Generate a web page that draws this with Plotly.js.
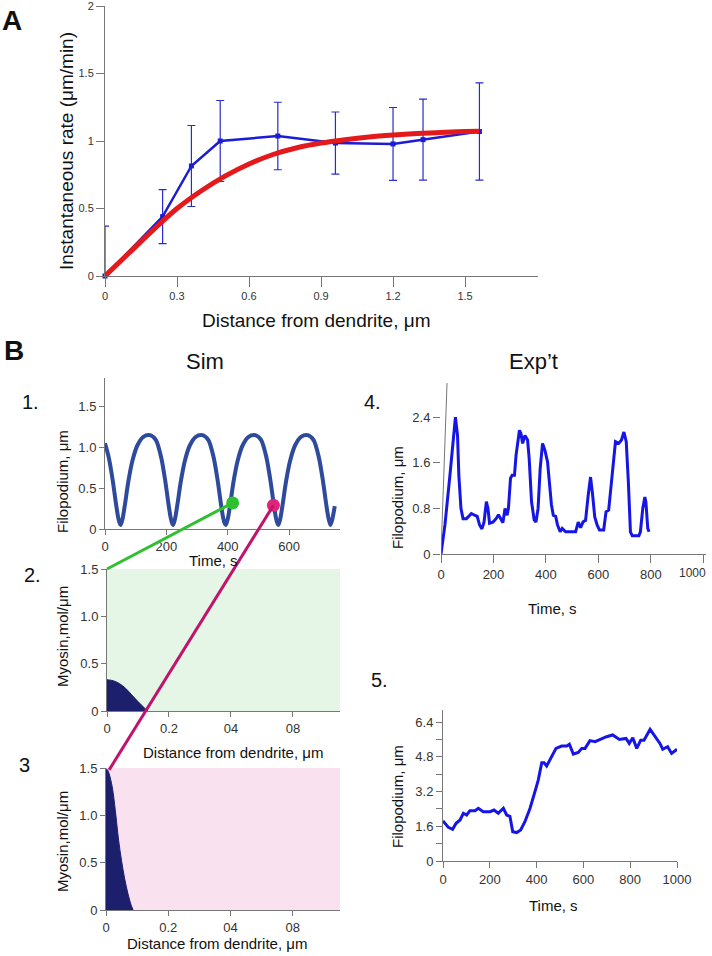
<!DOCTYPE html>
<html>
<head>
<meta charset="utf-8">
<script src="https://cdn.plot.ly/plotly-3.0.1.min.js"></script>
<style>
  html, body { margin: 0; padding: 0; background: #fff; }
  #chart { width: 712px; height: 956px; }
</style>
</head>
<body>
<div id="chart"></div>
<script>
// ---- Panel A: instantaneous rate vs distance ----
const rateX = [0, 0.24, 0.36, 0.48, 0.72, 0.96, 1.2, 1.325, 1.56];
const rateY = [0, 0.44, 0.815, 1.0, 1.037, 0.985, 0.978, 1.01, 1.07];
const rateErrUp = [0.37, 0.2, 0.3, 0.3, 0.25, 0.23, 0.27, 0.3, 0.36];
const rateErrDown = [0, 0.2, 0.3, 0.3, 0.25, 0.23, 0.27, 0.3, 0.36];
const fitX = [0, 0.1, 0.2, 0.3, 0.4, 0.5, 0.6, 0.7, 0.8, 0.9, 1.0, 1.1, 1.2, 1.3, 1.4, 1.5, 1.56];
const fitY = [0, 0.17, 0.34, 0.5, 0.63, 0.74, 0.83, 0.9, 0.95, 0.985, 1.01, 1.03, 1.044, 1.055, 1.063, 1.07, 1.072];
const aTicks = [0, 0.3, 0.6, 0.9, 1.2, 1.5];
const aMinorTicks = [0.267, 0.538, 0.808, 1.079, 1.35, 1.62];

// ---- Panel B1: simulated filopodium length ----
const simT = [0, 12, 25, 35, 43, 48,
  51, 57, 65, 76, 89, 105, 125, 147, 166, 183, 196, 206, 214, 219,
  222, 228, 236, 247, 260, 276, 296, 318, 337, 354, 367, 377, 385, 390,
  394, 400, 408, 419, 432, 448, 468, 490, 509, 526, 539, 549, 557, 562,
  565, 571, 579, 590, 603, 619, 639, 661, 680, 697, 710, 720, 728, 733,
  735, 741, 749];
const simLen = [1.05, 0.88, 0.6, 0.33, 0.14, 0.07,
  0.05, 0.12, 0.3, 0.58, 0.83, 1.02, 1.13, 1.15, 1.09, 0.88, 0.6, 0.33, 0.14, 0.07,
  0.05, 0.12, 0.3, 0.58, 0.83, 1.02, 1.13, 1.15, 1.09, 0.88, 0.6, 0.33, 0.14, 0.07,
  0.05, 0.12, 0.3, 0.58, 0.83, 1.02, 1.13, 1.15, 1.09, 0.88, 0.6, 0.33, 0.14, 0.07,
  0.05, 0.12, 0.3, 0.58, 0.83, 1.02, 1.13, 1.15, 1.09, 0.88, 0.6, 0.33, 0.14, 0.07,
  0.05, 0.12, 0.28];
const greenDot = { t: 416, v: 0.32 };
const pinkDot = { t: 549, v: 0.29 };

// ---- Panels B2 / B3: myosin profiles ----
const myo2X = [0, 0.02, 0.04, 0.06, 0.08, 0.1, 0.12, 0.132];
const myo2Y = [0.33, 0.32, 0.29, 0.24, 0.17, 0.1, 0.035, 0];
const myo3X = [0, 0.005, 0.01, 0.02, 0.03, 0.04, 0.05, 0.06, 0.07, 0.08, 0.087];
const myo3Y = [1.49, 1.48, 1.44, 1.3, 1.05, 0.75, 0.52, 0.33, 0.18, 0.06, 0];
const myoTicks = [0, 0.2, 0.4, 0.6];
const myoTickText = ["0", "0.2", "04", "08"];

// ---- Panel B4: experiment, trace 1 ----
const exp4T = [0, 15, 34, 47, 55, 63, 68, 76, 84, 97, 116, 128, 138, 147, 156, 164, 173, 179, 185,
  198, 210, 219, 227, 236, 244, 252, 257, 265, 271, 280, 286, 299, 305, 311, 320, 330, 336, 345,
  355, 362, 370, 378, 387, 396, 406, 414, 421, 428, 437, 444, 454, 462, 475, 506, 513, 523, 532,
  541, 551, 561, 570, 578, 586, 595, 604, 620, 629, 639, 649, 658, 665, 677, 688, 697, 706, 714,
  722, 729, 754, 760, 769, 777, 781, 788, 793];
const exp4V = [0, 0.51, 1.38, 2.08, 2.4, 2.08, 1.38, 0.8, 0.62, 0.62, 0.71, 0.68, 0.66, 0.51, 0.44, 0.56, 0.92, 0.8, 0.54,
  0.56, 0.62, 0.69, 0.62, 0.55, 0.8, 0.68, 0.8, 1.33, 1.38, 1.38, 1.73, 2.17, 2.11, 1.94, 2.08, 2.0, 1.68, 0.92,
  0.6, 0.56, 0.8, 1.5, 1.94, 1.82, 1.62, 1.27, 0.86, 0.68, 0.66, 0.51, 0.39, 0.45, 0.39, 0.39, 0.39, 0.56, 0.46,
  0.56, 0.59, 1.03, 1.35, 1.03, 0.65, 0.51, 0.42, 0.42, 0.74, 0.77, 1.21, 1.68, 1.97, 1.94, 2.0, 2.14, 1.97, 1.27,
  0.39, 0.32, 0.32, 0.39, 0.8, 1.0, 0.91, 0.45, 0.39];
const exp4SkewAxis = { t: [0, 23], v: [0, 3.0] };
const exp4TimeText = ["0", "200", "400", "600", "800", ""];

// ---- Panel B5: experiment, trace 2 ----
const exp5T = [0, 23, 41, 56, 73, 87, 101, 115, 137, 151, 172, 201, 218, 236, 258, 272, 286, 298, 315,
  332, 350, 372, 393, 407, 422, 432, 443, 457, 483, 507, 529, 540, 557, 578, 593, 607, 628, 650, 671,
  699, 725, 754, 782, 796, 811, 828, 845, 859, 885, 906, 927, 939, 960, 977, 1000];
const exp5V = [1.85, 1.55, 1.46, 1.74, 1.89, 2.2, 2.12, 2.32, 2.32, 2.43, 2.27, 2.27, 2.35, 2.2, 2.43, 2.12, 2.06, 1.35, 1.31,
  1.43, 1.81, 2.43, 3.2, 3.73, 4.53, 4.53, 4.38, 4.65, 5.19, 5.3, 5.3, 5.38, 4.93, 5.0, 5.19, 5.19, 5.55, 5.5, 5.6,
  5.73, 5.81, 5.6, 5.65, 5.42, 5.68, 5.19, 5.57, 5.57, 6.07, 5.73, 5.42, 5.15, 5.27, 4.96, 5.15];
const exp5Ticks = [0, 0.8, 1.6, 2.4, 3.2, 4.0, 4.8, 5.6, 6.4];
const exp5TickText = ["0", "", "1.6", "", "3.2", "", "4.8", "", "6.4"];
const timeTicks = [0, 200, 400, 600, 800, 1000];

// ---- layout helpers (page pixels -> paper fractions) ----
const W = 712, H = 956;
const FONT = "Liberation Sans, Arial, sans-serif";
const px = (x) => x / W;
const py = (y) => 1 - y / H;

function axis(extra) {
  return Object.assign({
    showline: true, linecolor: "#777", linewidth: 1,
    ticks: "outside", ticklen: 5, tickcolor: "#777", tickwidth: 1,
    showgrid: false, zeroline: false, fixedrange: true,
    ticklabeloverflow: "allow",
    tickfont: { family: FONT, size: 13, color: "#333" }
  }, extra);
}

const layout = {
  width: W, height: H,
  margin: { l: 0, r: 0, t: 0, b: 0 },
  paper_bgcolor: "#fff", plot_bgcolor: "rgba(0,0,0,0)",
  showlegend: false,
  font: { family: FONT, color: "#111" },

  xaxis: axis({ domain: [px(105), px(538)], range: [0, 1.804], anchor: "y",
    tickvals: aTicks, ticklen: 10, tickfont: { family: FONT, size: 11, color: "#333" } }),
  yaxis: axis({ domain: [py(276), py(6)], range: [0, 2], anchor: "x",
    tickvals: [0, 0.5, 1, 1.5, 2], ticktext: ["0", "0.5", "1", "1.5", "2"], ticklen: 8,
    tickfont: { family: FONT, size: 11, color: "#333" } }),
  xaxis7: axis({ overlaying: "x", anchor: "y", range: [0, 1.804], tickvals: aMinorTicks,
    ticks: "inside", ticklen: 4, showticklabels: false, showline: false }),

  xaxis2: axis({ domain: [px(105), px(340)], range: [0, 766], anchor: "y2", tickvals: [0, 200, 400, 600] }),
  yaxis2: axis({ domain: [py(529), py(378)], range: [0, 1.85], anchor: "x2",
    tickvals: [0, 0.5, 1, 1.5], ticktext: ["0", "0.5", "1.0", "1.5"] }),

  xaxis3: axis({ domain: [px(107), px(340)], range: [0, 0.752], anchor: "y3", tickvals: myoTicks, ticktext: myoTickText }),
  yaxis3: axis({ domain: [py(711), py(569)], range: [0, 1.5], anchor: "x3",
    tickvals: [0, 0.5, 1, 1.5], ticktext: ["0", "0.5", "1.0", "1.5"] }),

  xaxis4: axis({ domain: [px(106), px(340)], range: [0, 0.752], anchor: "y4", tickvals: myoTicks, ticktext: myoTickText }),
  yaxis4: axis({ domain: [py(910), py(768)], range: [0, 1.5], anchor: "x4",
    tickvals: [0, 0.5, 1, 1.5], ticktext: ["0", "0.5", "1.0", "1.5"] }),

  xaxis5: axis({ domain: [px(441), px(706)], range: [0, 1010], anchor: "y5",
    tickvals: timeTicks, ticktext: exp4TimeText, ticklen: 8 }),
  yaxis5: axis({ domain: [py(554), py(383)], range: [0, 3.0], anchor: "x5",
    tickvals: [0, 0.8, 1.6, 2.4], ticktext: ["0", "0.8", "1.6", "2.4"], showline: false, ticklen: 7 }),

  xaxis6: axis({ domain: [px(443), px(677)], range: [0, 1000], anchor: "y6", tickvals: timeTicks, ticklen: 6 }),
  yaxis6: axis({ domain: [py(861), py(710)], range: [0, 6.96], anchor: "x6",
    tickvals: exp5Ticks, ticktext: exp5TickText, ticklen: 6 })
};

// data coords -> paper coords, through the axis ranges above
function toPaper(xa, ya, x, y) {
  const ax = layout[xa], ay = layout[ya];
  return {
    x: ax.domain[0] + (x - ax.range[0]) / (ax.range[1] - ax.range[0]) * (ax.domain[1] - ax.domain[0]),
    y: ay.domain[0] + (y - ay.range[0]) / (ay.range[1] - ay.range[0]) * (ay.domain[1] - ay.domain[0])
  };
}

const gStart = toPaper("xaxis2", "yaxis2", greenDot.t, greenDot.v);
const gEnd = toPaper("xaxis3", "yaxis3", 0, 1.5);
const pStart = toPaper("xaxis2", "yaxis2", pinkDot.t, pinkDot.v);
const pEnd = toPaper("xaxis4", "yaxis4", 0.01, 1.48);

layout.shapes = [
  { type: "rect", xref: "x3 domain", yref: "y3 domain", x0: 0, x1: 1, y0: 0, y1: 1,
    fillcolor: "#e5f6e6", line: { width: 0 }, layer: "below" },
  { type: "rect", xref: "x4 domain", yref: "y4 domain", x0: 0, x1: 1, y0: 0, y1: 1,
    fillcolor: "#f9e1ef", line: { width: 0 }, layer: "below" },
  { type: "line", xref: "x5", yref: "y5", x0: exp4SkewAxis.t[0], y0: exp4SkewAxis.v[0],
    x1: exp4SkewAxis.t[1], y1: exp4SkewAxis.v[1], line: { color: "#777", width: 1 } },
  { type: "line", xref: "paper", yref: "paper", x0: gStart.x, y0: gStart.y, x1: gEnd.x, y1: gEnd.y,
    line: { color: "#2fbf2f", width: 3 }, layer: "above" },
  { type: "line", xref: "paper", yref: "paper", x0: pStart.x, y0: pStart.y, x1: pEnd.x, y1: pEnd.y,
    line: { color: "#c0146c", width: 3 }, layer: "above" }
];

function note(text, x, y, size, extra) {
  return Object.assign({
    text: text, xref: "paper", yref: "paper", x: px(x), y: py(y),
    xanchor: "center", yanchor: "middle", showarrow: false,
    font: { family: FONT, size: size, color: "#111" }
  }, extra);
}

layout.annotations = [
  note("<b>A</b>", 12, 21, 28),
  note("<b>B</b>", 14, 350, 28),
  note("Sim", 205, 362, 22),
  note("Exp’t", 533, 362, 22),
  note("1.", 30, 402, 20),
  note("2.", 32, 575, 20),
  note("3", 24, 765, 20),
  note("4.", 372, 402, 20),
  note("5.", 379, 680, 20),
  note("Instantaneous rate (μm/min)", 67, 151, 19, { textangle: -90 }),
  note("Distance from dendrite, μm", 316, 320, 19),
  note("Filopodium, μm", 63, 481, 15, { textangle: -90 }),
  note("Time, s", 213, 560, 15),
  note("Myosin,mol/μm", 62, 637, 15, { textangle: -90 }),
  note("Distance from dendrite, μm", 233, 752, 15),
  note("Myosin,mol/μm", 62, 842, 15, { textangle: -90 }),
  note("Distance from dendrite, μm", 217, 943, 15),
  note("Filopodium, μm", 397, 497, 15, { textangle: -90 }),
  note("1000", 692, 573, 12, { font: { family: FONT, size: 12, color: "#333" } }),
  note("Time, s", 552, 608, 15),
  note("Filopodium, μm", 397, 796, 15, { textangle: -90 }),
  note("Time, s", 553, 905, 15)
];

const traces = [
  {
    type: "scatter", mode: "lines+markers", x: rateX, y: rateY, xaxis: "x", yaxis: "y",
    line: { color: "#1c1cd6", width: 2.5 },
    marker: { color: "#1c1cd6", size: 5, symbol: "square" },
    error_y: { type: "data", symmetric: false, array: rateErrUp, arrayminus: rateErrDown,
      color: "#2a2ad0", thickness: 1.2, width: 4 },
    cliponaxis: false
  },
  {
    type: "scatter", mode: "lines", x: fitX, y: fitY, xaxis: "x", yaxis: "y",
    line: { color: "#e3191c", width: 5, shape: "spline" }
  },
  {
    type: "scatter", mode: "lines", x: simT, y: simLen, xaxis: "x2", yaxis: "y2",
    line: { color: "#2e4a9c", width: 4, shape: "spline", smoothing: 0.8 }
  },
  {
    type: "scatter", mode: "markers", x: [greenDot.t], y: [greenDot.v], xaxis: "x2", yaxis: "y2",
    marker: { color: "#2fc02f", size: 13 }, cliponaxis: false
  },
  {
    type: "scatter", mode: "markers", x: [pinkDot.t], y: [pinkDot.v], xaxis: "x2", yaxis: "y2",
    marker: { color: "#e0247c", size: 13 }, cliponaxis: false
  },
  {
    type: "scatter", mode: "lines", x: myo2X, y: myo2Y, xaxis: "x3", yaxis: "y3",
    fill: "tozeroy", fillcolor: "#1b1f6c", line: { color: "#1b1f6c", width: 1, shape: "spline" }
  },
  {
    type: "scatter", mode: "lines", x: myo3X, y: myo3Y, xaxis: "x4", yaxis: "y4",
    fill: "tozeroy", fillcolor: "#1b1f6c", line: { color: "#1b1f6c", width: 1, shape: "spline" }
  },
  {
    type: "scatter", mode: "lines", x: exp4T, y: exp4V, xaxis: "x5", yaxis: "y5",
    line: { color: "#1515e6", width: 3 }
  },
  {
    type: "scatter", mode: "lines", x: exp5T, y: exp5V, xaxis: "x6", yaxis: "y6",
    line: { color: "#1515e6", width: 3 }
  }
];

Plotly.newPlot("chart", traces, layout, { displayModeBar: false, staticPlot: true });
</script>
</body>
</html>
